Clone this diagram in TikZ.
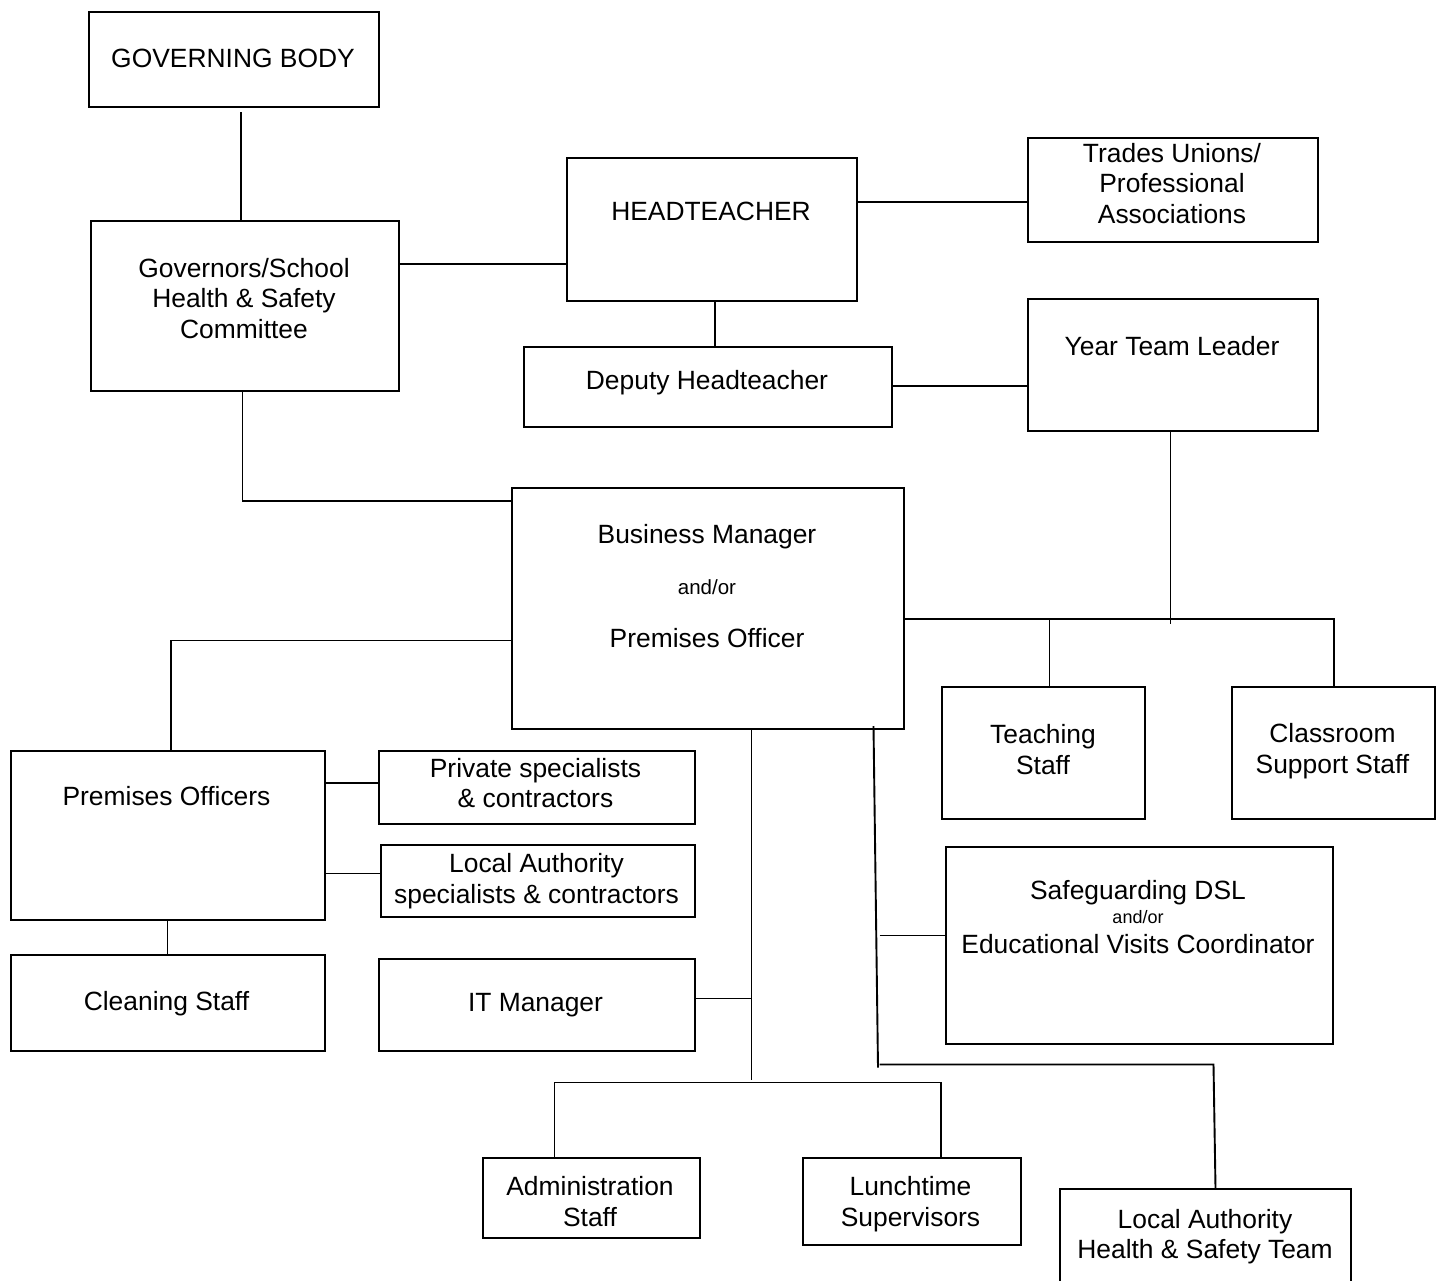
\documentclass[tikz,border=0pt]{standalone}
\usepackage{fontspec}
\setmainfont{Liberation Sans}
\begin{document}
\begin{tikzpicture}[x=1pt,y=-1pt,
  box/.style 2 args={draw,line width=2.1pt,rectangle,inner sep=0pt,anchor=north west,minimum width=#1,minimum height=#2},
  txt/.style={font=\fontsize{26.4}{30.5}\selectfont,align=center,inner sep=0pt},
  small/.style={font=\fontsize{20.5}{24}\selectfont,inner sep=0pt},
  smaller/.style={font=\fontsize{18}{21}\selectfont,inner sep=0pt},
  conn/.style={line width=1.9pt}]
\useasboundingbox (0,0) rectangle (1443,1280);
\fill[white] (0,0) rectangle (1443,1280);
\clip (0,0) rectangle (1443,1280);

% boxes
\node[box={290pt}{95pt}]     (gb)    at (88,10.5) {};
\node[box={307.5pt}{170pt}]  (gov)   at (90,220) {};
\node[box={290pt}{143pt}]    (head)  at (566,157) {};
\node[box={290pt}{104.5pt}]  (tu)    at (1027,136.5) {};
\node[box={368pt}{80pt}]     (dep)   at (523,345.5) {};
\node[box={290pt}{132pt}]    (ytl)   at (1027,298) {};
\node[box={392pt}{241pt}]    (bm)    at (511,487) {};
\node[box={203pt}{132pt}]    (teach) at (941,685.5) {};
\node[box={203pt}{132pt}]    (cls)   at (1231,685.5) {};
\node[box={314pt}{169pt}]    (po)    at (9.5,749.5) {};
\node[box={316pt}{73pt}]     (priv)  at (377.5,749.5) {};
\node[box={314pt}{72pt}]     (lasp)  at (379.5,844) {};
\node[box={314pt}{96pt}]     (clean) at (9.5,953.5) {};
\node[box={316pt}{91.5pt}]   (itm)   at (377.5,958) {};
\node[box={387.5pt}{196.5pt}] (safe) at (944.5,846) {};
\node[box={217pt}{80pt}]     (admin) at (481.5,1156.5) {};
\node[box={218pt}{87pt}]     (lunch) at (801.5,1156.5) {};
\node[box={291pt}{112pt}]    (lahs)  at (1058.5,1188) {};

% texts
\node[txt] (gbt)    at (233,58)      {GOVERNING BODY};
\node[txt] (govt)   at (244,298.5)   {Governors/School\\Health \& Safety\\Committee};
\node[txt] (headt)  at (711,211)     {HEADTEACHER};
\node[txt] (tut)    at (1172,183.5)  {Trades Unions/\\Professional\\Associations};
\node[txt] (dept)   at (707,383)     {Deputy Headteacher};
\node[txt] (ytlt)   at (1172,346)    {Year Team Leader};
\node[txt] (bmt1)   at (707,537)     {Business Manager};
\node[small] (bmt2) at (707,587)     {and/or};
\node[txt] (bmt3)   at (707,638.5)   {Premises Officer};
\node[txt] (teacht) at (1043,749.5)  {Teaching\\Staff};
\node[txt] (clst)   at (1332.5,751)  {Classroom\\Support Staff};
\node[txt] (pot)    at (166.5,796.5) {Premises Officers};
\node[txt] (privt)  at (535.5,783.3) {Private specialists\\\& contractors};
\node[txt] (laspt)  at (536.5,881.4) {Local Authority\\specialists \& contractors};
\node[txt] (cleant) at (166.5,1003.8) {Cleaning Staff};
\node[txt] (itmt)   at (535.5,1004.8) {IT Manager};
\node[txt] (safet1) at (1138,892.6)  {Safeguarding DSL};
\node[smaller] (safet2) at (1138,917) {and/or};
\node[txt] (safet3) at (1138,944)    {Educational Visits Coordinator};
\node[txt] (admint) at (590,1201.7)  {Administration\\Staff};
\node[txt] (luncht) at (910.5,1204.4) {Lunchtime\\Supervisors};
\node[txt] (lahst)  at (1205,1236.8) {Local Authority\\Health \& Safety Team};

% connectors
\draw[conn] ([xshift=6.5pt,yshift=-4.5pt]gb.south) coordinate (c1) -- (c1 |- gov.north);
\draw[conn] (gov.east |- 0,264) -- (head.west |- 0,264);
\draw[conn] (head.east |- 0,202) -- (tu.west |- 0,202);
\draw[conn] (head.south -| 715,0) -- (dep.north -| 715,0);
\draw[conn] (dep.east |- 0,386) -- (ytl.west |- 0,386);
\draw[conn] (gov.south -| 242.5,0) |- (bm.west |- 0,501);
\draw[conn] (ytl.south -| 1170.5,0) -- (1170.5,623.5) coordinate (j1);
\draw[conn] (bm.east |- 0,619) -- (cls.north |- 0,619) -- (cls.north);
\draw[conn] (teach.north -| 1049.5,0) -- (1049.5,619);
\draw[conn] (bm.west |- 0,640.5) -| (po.north -| 171,0);
\draw[conn] (po.east |- 0,783) -- (priv.west |- 0,783);
\draw[conn] (po.east |- 0,873.5) -- (lasp.west |- 0,873.5);
\draw[conn] (po.south -| 167.5,0) -- (clean.north -| 167.5,0);
\draw[conn] (bm.south -| 751.5,0) -- (751.5,1079.5) coordinate (bmd);
\draw[conn] (itm.east |- 0,998.5) -- (751.5,998.5);
\draw[conn] (admin.north -| 554.5,0) -- (554.5,1082.5) -- (941,1082.5) -- (lunch.north -| 941,0);
\draw[conn] (873.5,726) coordinate (s0) -- (878,1067.5) coordinate (s1);
\draw[conn] (879.5,935.5) -- (safe.west |- 0,935.5);
\draw[conn] (879.5,1064.5) -- (1213.5,1064.5) -- (lahs.north -| 1215.5,0);
\end{tikzpicture}
\end{document}
